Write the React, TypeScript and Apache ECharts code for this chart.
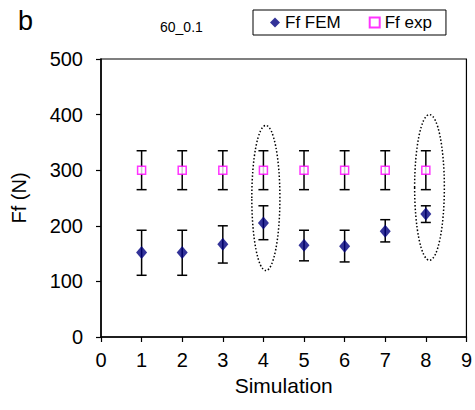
import React, { useEffect, useRef } from "react";
import * as echarts from "echarts";

const simulations = [1, 2, 3, 4, 5, 6, 7, 8];
const femValues = [152, 152, 167, 205, 165, 163, 190, 221];
const femLow = [111, 111, 133, 175, 137, 135, 171, 206];
const femHigh = [192, 192, 200, 236, 192, 192, 211, 236];
const expValues = [300, 300, 300, 300, 300, 300, 300, 300];
const expLow = [265, 265, 265, 265, 265, 265, 265, 265];
const expHigh = [335, 335, 335, 335, 335, 335, 335, 335];
// highlighted ellipses: [centerX, centerY, radiusX, radiusY] in data units
const ellipses = [
  [4.06, 250, 0.346, 130.5],
  [8.09, 269, 0.366, 131],
];

const FONT = "Liberation Sans, Arial, sans-serif";

export default function App() {
  const ref = useRef<HTMLDivElement>(null);
  useEffect(() => {
    const chart = echarts.init(ref.current!, null, { renderer: "svg" });
    const errData = [
      ...simulations.map((s, i) => [s, femLow[i], femHigh[i]]),
      ...simulations.map((s, i) => [s, expLow[i], expHigh[i]]),
    ];
    const option: any = {
      animation: false,
      textStyle: { fontFamily: FONT },
      grid: {
        left: 101,
        right: 5,
        top: 59,
        bottom: 73,
        show: true,
        borderColor: "#000",
        borderWidth: 1.2,
        backgroundColor: "transparent",
      },
      title: [
        {
          text: "b",
          left: 13,
          top: 2,
          textStyle: { fontFamily: FONT, fontSize: 27, fontWeight: "normal", color: "#000" },
        },
        {
          text: "60_0.1",
          left: 155,
          top: 15,
          textStyle: { fontFamily: FONT, fontSize: 14, fontWeight: "normal", color: "#000" },
        },
      ],
      legend: {
        left: 253,
        top: 10,
        width: 196,
        height: 26,
        padding: [4, 14, 4, 17],
        itemGap: 28,
        itemWidth: 10,
        itemHeight: 10,
        borderColor: "#000",
        borderWidth: 1,
        textStyle: { fontFamily: FONT, fontSize: 17, color: "#000" },
        data: ["Ff FEM", "Ff exp"],
      },
      xAxis: {
        type: "value",
        min: 0,
        max: 9,
        interval: 1,
        name: "Simulation",
        nameLocation: "middle",
        nameGap: 35,
        nameTextStyle: { fontFamily: FONT, fontSize: 21, color: "#000" },
        axisLine: { show: true, onZero: false, lineStyle: { color: "#000", width: 1.5 } },
        axisTick: { show: true, inside: false, length: 5, lineStyle: { color: "#000", width: 1.2 } },
        axisLabel: { fontFamily: FONT, fontSize: 20, color: "#000", margin: 13 },
        splitLine: { show: false },
      },
      yAxis: {
        type: "value",
        min: 0,
        max: 500,
        interval: 100,
        name: "Ff (N)",
        nameLocation: "middle",
        nameGap: 72,
        nameRotate: 90,
        nameTextStyle: { fontFamily: FONT, fontSize: 20, color: "#000" },
        axisLine: { show: true, lineStyle: { color: "#000", width: 1.5 } },
        axisTick: { show: true, inside: false, length: 5, lineStyle: { color: "#000", width: 1.2 } },
        axisLabel: { fontFamily: FONT, fontSize: 20, color: "#000", margin: 18 },
        splitLine: { show: false },
      },
      series: [
        {
          type: "custom",
          name: "ellipses",
          silent: true,
          z: 1,
          data: ellipses,
          renderItem: (params: any, api: any) => {
            const c = api.coord([api.value(0), api.value(1)]);
            const sz = api.size([api.value(2), api.value(3)]);
            return {
              type: "ellipse",
              shape: { cx: c[0], cy: c[1], rx: sz[0], ry: sz[1] },
              style: { fill: "none", stroke: "#000", lineWidth: 1.5, lineDash: [1.5, 2] },
            };
          },
        },
        {
          type: "custom",
          name: "errors",
          silent: true,
          z: 2,
          data: errData,
          renderItem: (params: any, api: any) => {
            const x = api.value(0);
            const lo = api.coord([x, api.value(1)]);
            const hi = api.coord([x, api.value(2)]);
            const hw = 5;
            const st = { stroke: "#000", lineWidth: 1.5 };
            return {
              type: "group",
              children: [
                { type: "line", shape: { x1: lo[0], y1: lo[1], x2: hi[0], y2: hi[1] }, style: st },
                { type: "line", shape: { x1: lo[0] - hw, y1: lo[1], x2: lo[0] + hw, y2: lo[1] }, style: st },
                { type: "line", shape: { x1: hi[0] - hw, y1: hi[1], x2: hi[0] + hw, y2: hi[1] }, style: st },
              ],
            };
          },
        },
        {
          type: "scatter",
          name: "Ff FEM",
          z: 3,
          symbol: "diamond",
          symbolSize: [11, 13],
          itemStyle: { color: "#000080" },
          data: simulations.map((s, i) => [s, femValues[i]]),
        },
        {
          type: "scatter",
          name: "Ff exp",
          z: 3,
          symbol: "rect",
          symbolSize: 8,
          itemStyle: { color: "#ffffff", borderColor: "#ff00ff", borderWidth: 1.5 },
          data: simulations.map((s, i) => [s, expValues[i]]),
        },
      ],
    };
    chart.setOption(option);
    return () => chart.dispose();
  }, []);
  return <div ref={ref} style={{ width: 475, height: 410, position: "absolute", left: 0, top: 0 }} />;
}
